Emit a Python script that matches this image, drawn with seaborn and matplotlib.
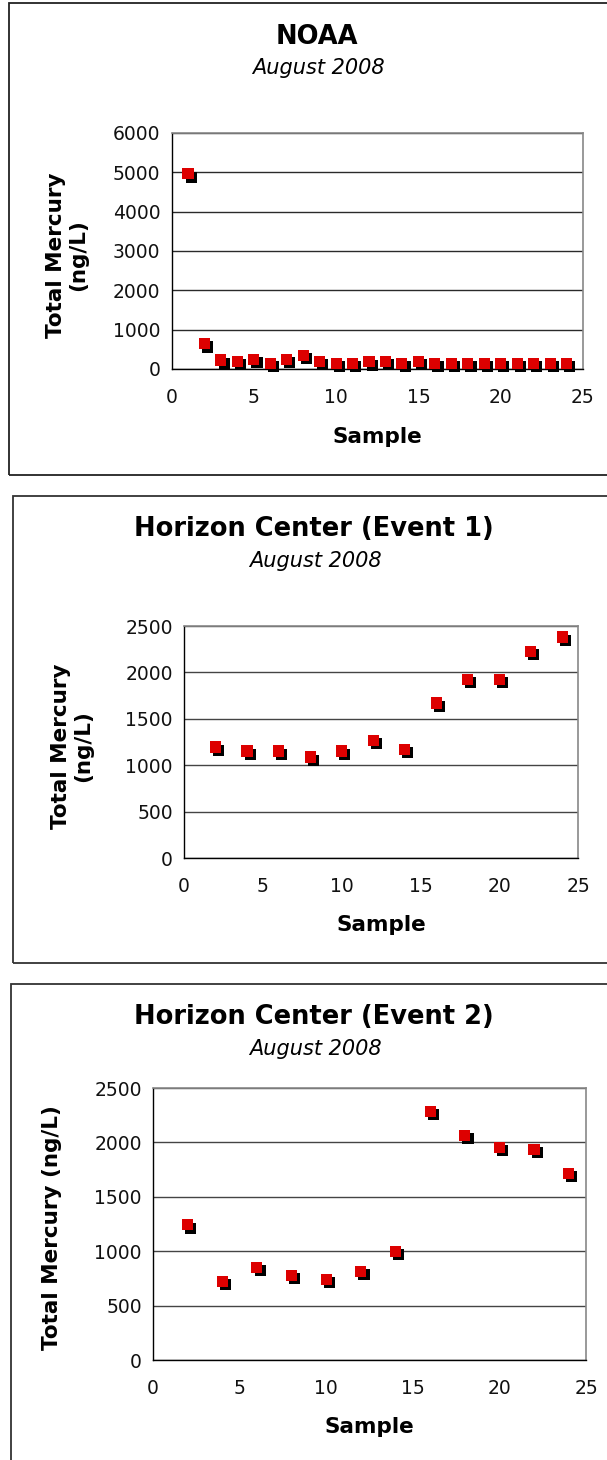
import numpy as np
import pandas as pd
import matplotlib
matplotlib.use("Agg")
import matplotlib.pyplot as plt
import matplotlib.patheffects as pe
from matplotlib.patches import Rectangle
import seaborn as sns

# ---------------- data ----------------
noaa_sample = list(range(1, 25))
noaa_hg = [4960, 640, 230, 190, 240, 150, 250, 340, 190, 140, 150, 180,
           190, 150, 200, 150, 140, 140, 140, 140, 140, 140, 140, 140]

ev1_sample = [2, 4, 6, 8, 10, 12, 14, 16, 18, 20, 22, 24]
ev1_hg = [1196, 1153, 1153, 1088, 1153, 1264, 1171, 1670, 1925, 1925, 2230, 2381]

ev2_sample = [2, 4, 6, 8, 10, 12, 14, 16, 18, 20, 22, 24]
ev2_hg = [1242, 721, 853, 779, 742, 816, 997, 2288, 2064, 1957, 1933, 1718]

titles = ["NOAA", "Horizon Center (Event 1)", "Horizon Center (Event 2)"]
subtitle = "August 2008"
ylabels = ["Total Mercury\n(ng/L)", "Total Mercury\n(ng/L)", "Total Mercury (ng/L)"]
xlabel = "Sample"
x_ticks = [0, 5, 10, 15, 20, 25]
y_ticks_noaa = [0, 1000, 2000, 3000, 4000, 5000, 6000]
y_ticks_hc = [0, 500, 1000, 1500, 2000, 2500]

# ---------------- style ----------------
sns.set_style("white")
plt.rcParams['font.family'] = ['DejaVu Sans']

W, H = 607, 1460
fig = plt.figure(figsize=(W / 100, H / 100), dpi=100)
fig.patch.set_facecolor("white")


def fx(px):
    return px / W


def fy(py):
    return 1 - py / H


panels = [
    dict(x=noaa_sample, y=noaa_hg, yt=y_ticks_noaa, ymax=6000,
         frame=(8.5, 3, 475), ax=(171.5, 583, 133, 369),
         ty=37, sy=68, tx=317, ylx=67, xly=437, frame_col="#222222",
         grid_col="#2a2a2a"),
    dict(x=ev1_sample, y=ev1_hg, yt=y_ticks_hc, ymax=2500,
         frame=(13, 496, 963), ax=(184, 578, 626, 858),
         ty=529, sy=561, tx=314, ylx=72, xly=925, frame_col="#333333",
         grid_col="#444444"),
    dict(x=ev2_sample, y=ev2_hg, yt=y_ticks_hc, ymax=2500,
         frame=(11, 984, 1475), ax=(153, 586, 1088, 1360),
         ty=1017, sy=1049, tx=314, ylx=52, xly=1427, frame_col="#333333",
         grid_col="#444444"),
]

for i, p in enumerate(panels):
    fl, ft, fb = p["frame"]
    rect = Rectangle((fx(fl), fy(fb)), fx(W + 40 - fl), fy(ft) - fy(fb),
                     transform=fig.transFigure, fill=False,
                     edgecolor=p["frame_col"], linewidth=1.3, zorder=0)
    fig.patches.append(rect)

    l, r, t, b = p["ax"]
    ax = fig.add_axes([fx(l), fy(b), fx(r) - fx(l), fy(t) - fy(b)])
    ax.set_facecolor("white")

    df = pd.DataFrame({"Sample": p["x"], "Hg": p["y"]})
    sns.scatterplot(data=df, x="Sample", y="Hg", ax=ax, marker="s", s=64,
                    color="#DD0000", linewidth=0, zorder=3, clip_on=False)
    ax.collections[-1].set_path_effects([
        pe.SimplePatchShadow(offset=(2.3, -2.3), shadow_rgbFace="black", alpha=1.0),
        pe.Normal()])

    ax.set_xlim(0, 25)
    ax.set_ylim(0, p["ymax"])
    ax.set_xticks(x_ticks)
    ax.set_yticks(p["yt"])
    ax.set_yticklabels([str(v) for v in p["yt"]])
    ax.yaxis.grid(True, color=p["grid_col"], linewidth=1.0)
    ax.xaxis.grid(False)
    ax.set_axisbelow(True)

    for s in ["top", "right"]:
        ax.spines[s].set_color("#888888")
        ax.spines[s].set_linewidth(1.2)
    for s in ["left", "bottom"]:
        ax.spines[s].set_color("black")
        ax.spines[s].set_linewidth(1.0)

    ax.tick_params(axis="both", which="major", direction="out", length=5,
                   width=1, color="black", labelsize=13.5, labelcolor="#111111")
    ax.tick_params(axis="x", pad=9)
    ax.tick_params(axis="y", pad=3)

    ax.set_xlabel("")
    ax.set_ylabel("")

    fig.text(fx(p["tx"]), fy(p["ty"]), titles[i], ha="center", va="center",
             fontsize=18.5, fontweight="bold", color="black")
    fig.text(fx(p["tx"] + 1), fy(p["sy"]), subtitle, ha="center", va="center",
             fontsize=15, fontstyle="italic", color="black")
    fig.text(fx((l + r) / 2), fy(p["xly"]), xlabel, ha="center", va="center",
             fontsize=15.5, fontweight="bold", color="black")
    fig.text(fx(p["ylx"]), fy((t + b) / 2 + 4), ylabels[i], ha="center",
             va="center", rotation=90, fontsize=15.5, fontweight="bold",
             color="black", linespacing=1.15, multialignment="center")

fig.savefig("out.png", dpi=100, facecolor="white")
